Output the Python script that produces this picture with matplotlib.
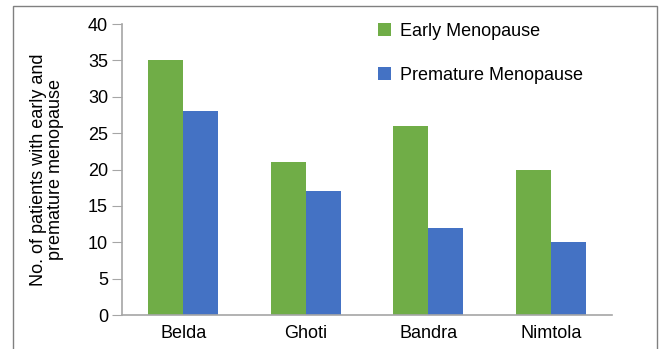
import numpy as np
import matplotlib.pyplot as plt
from matplotlib.patches import Rectangle

plt.rcParams['font.family'] = ['Liberation Sans', 'DejaVu Sans']

villages = ["Belda", "Ghoti", "Bandra", "Nimtola"]
early = [35, 21, 26, 20]
premature = [28, 17, 12, 10]

fig = plt.figure(figsize=(6.59, 3.49), dpi=100)
ax = fig.add_axes([0.185, 0.097, 0.744, 0.834])

x = np.arange(len(villages))
w = 0.286
ax.bar(x - w / 2, early, w, color='#70AD47', label="Early Menopause")
ax.bar(x + w / 2, premature, w, color='#4472C4', label="Premature Menopause")

ax.set_xlim(-0.5, 3.5)
ax.set_ylim(0, 40)
ax.set_yticks(range(0, 41, 5))
ax.set_xticks(x)
ax.set_xticklabels(villages)
ax.tick_params(axis='x', length=0, labelsize=13, pad=7)
ax.tick_params(axis='y', length=7, color='#A6A6A6', labelsize=13, pad=3)
for s in ['top', 'right']:
    ax.spines[s].set_visible(False)
for s in ['left', 'bottom']:
    ax.spines[s].set_color('#A6A6A6')
    ax.spines[s].set_linewidth(1.2)

ax.set_ylabel("No. of patients with early and\npremature menopause", fontsize=13,
              labelpad=17, linespacing=1.05)

ax.legend(loc='upper left', bbox_to_anchor=(0.49, 1.06), frameon=False, fontsize=13,
          handlelength=0.7, handleheight=0.7, handletextpad=0.5, labelspacing=1.5)

fig.patches.append(Rectangle((0.02, -0.1), 0.977, 1.083, transform=fig.transFigure,
                             fill=False, edgecolor='#808080', linewidth=1))

fig.savefig("out.png", dpi=100)
